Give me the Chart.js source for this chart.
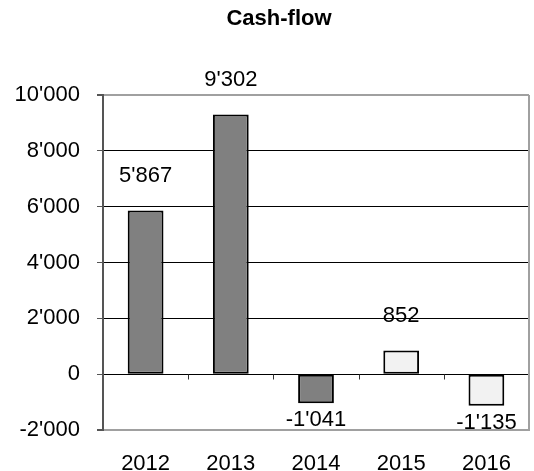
<!DOCTYPE html>
<html>
<head>
<meta charset="utf-8">
<title>Cash-flow</title>
<script src="https://cdn.jsdelivr.net/npm/chart.js@4.4.1/dist/chart.umd.min.js"></script>
<style>
    html, body { margin: 0; padding: 0; background: #fff; }
    #wrap { width: 534px; height: 471px; position: relative; }
</style>
</head>
<body>
<div id="wrap"><canvas id="cashChart"></canvas></div>
<script>
// Chart data
const years = ['2012', '2013', '2014', '2015', '2016'];
const cashFlow = [5867, 9302, -1041, 852, -1135];
const forecastYears = ['2015', '2016'];
const yTicks = [-2000, 0, 2000, 4000, 6000, 8000, 10000];
const chartTitle = 'Cash-flow';

const FONT = "'Liberation Sans', Arial, sans-serif";

// 10000 -> 10'000
function fmt(v) {
    const s = Math.abs(v).toString().replace(/\B(?=(\d{3})+(?!\d))/g, "'");
    return (v < 0 ? '-' : '') + s;
}

// title, right border, zero-line ticks and value labels
const extrasPlugin = {
    id: 'extras',
    afterDatasetsDraw(chart) {
        const ctx = chart.ctx;
        const area = chart.chartArea;
        const x = chart.scales.x;
        const y = chart.scales.y;

        ctx.save();
        // right border of the plot
        ctx.strokeStyle = '#a0a0a0';
        ctx.lineWidth = 2;
        ctx.beginPath();
        ctx.moveTo(area.right, area.top);
        ctx.lineTo(area.right, area.bottom);
        ctx.stroke();

        // small ticks between categories on the zero line
        const yZero = Math.round(y.getPixelForValue(0)) + 0.5;
        ctx.strokeStyle = '#333';
        ctx.lineWidth = 1;
        for (let i = 0; i < years.length - 1; i++) {
            const xb = Math.round((x.getPixelForValue(i) + x.getPixelForValue(i + 1)) / 2) + 0.5;
            ctx.beginPath();
            ctx.moveTo(xb, yZero);
            ctx.lineTo(xb, yZero + 5);
            ctx.stroke();
        }

        // value labels
        ctx.fillStyle = '#000';
        ctx.font = '22px ' + FONT;
        ctx.textAlign = 'center';
        ctx.textBaseline = 'alphabetic';
        chart.getDatasetMeta(0).data.forEach((bar, i) => {
            const v = cashFlow[i];
            const ty = v >= 0 ? bar.y - 28 : bar.y + 23;
            ctx.fillText(fmt(v), bar.x, ty);
        });

        // title
        ctx.font = 'bold 22px ' + FONT;
        ctx.textBaseline = 'middle';
        ctx.fillText(chartTitle, 279, 19);
        ctx.restore();
    }
};

const edgeValue = v => v === yTicks[0] || v === yTicks[yTicks.length - 1];

new Chart(document.getElementById('cashChart'), {
    type: 'bar',
    data: {
        labels: years,
        datasets: [{
            data: cashFlow,
            backgroundColor: ctx => forecastYears.includes(years[ctx.dataIndex]) ? '#f2f2f2' : '#808080',
            borderColor: '#000',
            borderWidth: 2,
            borderSkipped: false,
            barPercentage: 0.42,
            categoryPercentage: 1
        }]
    },
    options: {
        responsive: true,
        maintainAspectRatio: false,
        animation: false,
        devicePixelRatio: 1,
        layout: { padding: { top: 95, right: 5, left: 0, bottom: 0 } },
        plugins: {
            legend: { display: false },
            title: { display: false },
            tooltip: { enabled: false }
        },
        scales: {
            x: {
                grid: { display: false },
                border: { color: '#a0a0a0', width: 2 },
                ticks: {
                    color: '#000',
                    font: { family: FONT, size: 22 },
                    padding: 13,
                    maxRotation: 0
                },
                afterFit: scale => { scale.height = 41; }
            },
            y: {
                min: yTicks[0],
                max: yTicks[yTicks.length - 1],
                afterBuildTicks: scale => { scale.ticks = yTicks.map(v => ({ value: v })); },
                afterFit: scale => { scale.width = 103; },
                grid: {
                    color: ctx => edgeValue(ctx.tick.value) ? '#a0a0a0' : '#000',
                    lineWidth: ctx => edgeValue(ctx.tick.value) ? 2 : 1,
                    tickColor: '#555',
                    tickLength: 6
                },
                border: { color: '#555', width: 2 },
                ticks: {
                    color: '#000',
                    font: { family: FONT, size: 22 },
                    padding: 17,
                    callback: v => fmt(v)
                }
            }
        }
    },
    plugins: [extrasPlugin]
});
</script>
</body>
</html>
